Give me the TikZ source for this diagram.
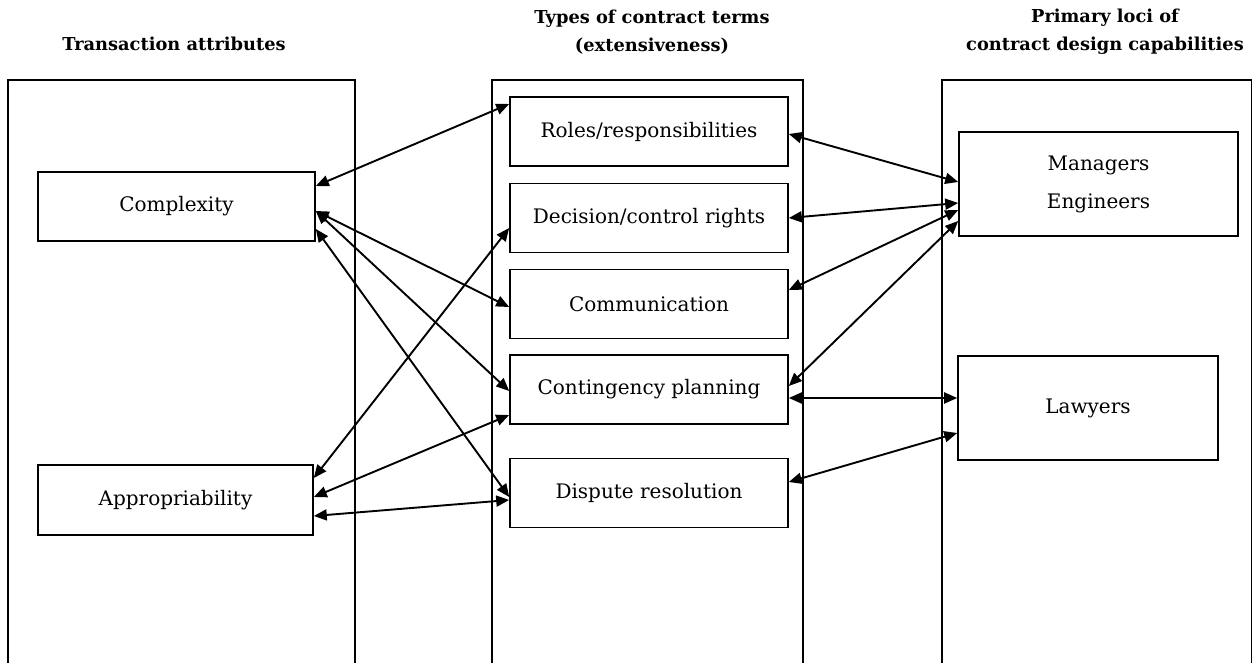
\documentclass[tikz,border=0pt]{standalone}
\usepackage{fontspec}
\setmainfont{DejaVu Serif}
\usetikzlibrary{calc,arrows.meta}
\begin{document}
\begin{tikzpicture}[x=0.5pt,y=-0.5pt,
  panel/.style={line width=0.8pt},
  box/.style={draw,line width=0.8pt,inner sep=0pt,align=center,font=\fontsize{10}{11}\selectfont},
  head/.style={align=center,font=\bfseries\fontsize{8.9}{14}\selectfont},
  link/.style={line width=0.95pt,{Triangle[length=6.5pt,width=5.5pt]}-{Triangle[length=6.5pt,width=5.5pt]}}]
\useasboundingbox (0,0) rectangle (1253,663);
% panels
\draw[panel] (8,663) -- (8,80) -- (355,80) -- (355,663);
\draw[panel] (492,663) -- (492,80) -- (803,80) -- (803,663);
\draw[panel] (942,663) -- (942,80) -- (1251.5,80) -- (1251.5,663);
% headers
\node[head] (h1) at (174,44) {Transaction attributes};
\node[head] (h2) at (652,32) {Types of contract terms\\(extensiveness)};
\node[head] (h3) at (1105,32) {Primary loci of\\contract design capabilities};
% left boxes
\node[box,minimum width=138.5pt,minimum height=34.5pt] (cx) at (176.5,206.5) {Complexity};
\node[box,minimum width=137.5pt,minimum height=35pt] (ap) at (175.5,500) {Appropriability};
% middle boxes
\node[box,minimum width=139pt,minimum height=34.5pt] (ro) at (649,131.5) {Roles/responsibilities};
\node[box,minimum width=139pt,minimum height=34.5pt] (de) at (649,218) {Decision/control rights};
\node[box,minimum width=139pt,minimum height=34.5pt] (co) at (649,304) {Communication};
\node[box,minimum width=139pt,minimum height=34.5pt] (ct) at (649,389.5) {Contingency planning};
\node[box,minimum width=139pt,minimum height=34.5pt] (di) at (649,493) {Dispute resolution};
% right boxes
\node[box,minimum width=139.5pt,minimum height=52pt,font=\fontsize{10}{19}\selectfont] (me) at (1098.5,184) {Managers\\Engineers};
\node[box,minimum width=130pt,minimum height=52pt] (la) at (1088,408) {Lawyers};
% left connectors
\draw[link] ($(cx.east)+(0,-20.5)$) -- ($(ro.west)+(0,-27.5)$);
\draw[link] ($(cx.east)+(0,4.5)$) -- ($(co.west)+(0,3)$);
\draw[link] ($(cx.east)+(0,4.5)$) -- ($(ct.west)+(0,1.5)$);
\draw[link] ($(cx.east)+(0,22.5)$) -- ($(di.west)+(0,4)$);
\draw[link] ($(ap.east)+(0,-22)$) -- ($(de.west)+(0,10)$);
\draw[link] ($(ap.east)+(0,-3)$) -- ($(ct.west)+(0,25.5)$);
\draw[link] ($(ap.east)+(0,16)$) -- ($(di.west)+(0,7)$);
% right connectors
\draw[link] ($(ro.east)+(0,2.5)$) -- ($(me.west)+(0,-2)$);
\draw[link] (de.east) -- ($(me.west)+(0,19)$);
\draw[link] ($(co.east)+(0,-14)$) -- ($(me.west)+(0,26)$);
\draw[link] ($(ct.east)+(0,-3.5)$) -- ($(me.west)+(0,37)$);
\draw[link] ($(ct.east)+(0,8.5)$) -- ($(la.west)+(0,-10)$);
\draw[link] ($(di.east)+(0,-11)$) -- ($(la.west)+(0,25)$);
\end{tikzpicture}
\end{document}
